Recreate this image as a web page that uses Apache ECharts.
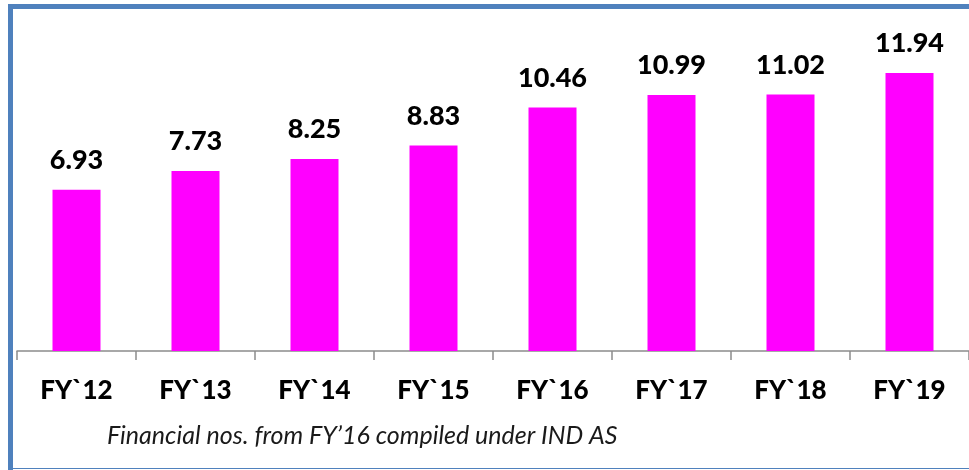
<!DOCTYPE html>
<html>
<head>
<meta charset="utf-8">
<script src="https://cdn.jsdelivr.net/npm/echarts@6/dist/echarts.min.js"></script>
<style>
  html, body { margin: 0; padding: 0; background: #fff; }
  #chart { width: 969px; height: 470px; }
</style>
</head>
<body>
<div id="chart"></div>
<script>
const categories = ['FY`12', 'FY`13', 'FY`14', 'FY`15', 'FY`16', 'FY`17', 'FY`18', 'FY`19']
const values = [6.93, 7.73, 8.25, 8.83, 10.46, 10.99, 11.02, 11.94]
const footnote = 'Financial nos. from FY\u201916 compiled under IND AS'

const chart = echarts.init(document.getElementById('chart'))
const border = '#4f81bd'

chart.setOption({
  animation: false,
  grid: { left: 17, width: 956, top: 25, bottom: 119 },
  graphic: [
    { type: 'rect', shape: { x: 8, y: 4, width: 961, height: 5 }, style: { fill: border } },
    { type: 'rect', shape: { x: 8, y: 4, width: 5, height: 466 }, style: { fill: border } },
    { type: 'rect', shape: { x: 8, y: 468, width: 961, height: 1 }, style: { fill: border } },
    {
      type: 'text', left: 107, top: 423,
      style: { text: footnote, font: 'italic 25px Lato', fill: '#1a1a1a' },
    },
  ],
  xAxis: {
    type: 'category',
    data: categories,
    axisLine: { lineStyle: { color: '#8c8c8c', width: 1.5 } },
    axisTick: { show: true, length: 9, lineStyle: { color: '#8c8c8c', width: 1.5 } },
    axisLabel: { margin: 27, fontFamily: 'Lato', fontWeight: 900, fontSize: 26, color: '#000' },
  },
  yAxis: { type: 'value', min: 0, max: 14, show: false },
  series: [{
    type: 'bar',
    data: values,
    barWidth: 48,
    itemStyle: { color: '#ff00ff' },
    label: {
      show: true, position: 'top', distance: 16,
      fontFamily: 'Lato', fontWeight: 900, fontSize: 27, color: '#000',
    },
  }],
})
</script>
</body>
</html>
